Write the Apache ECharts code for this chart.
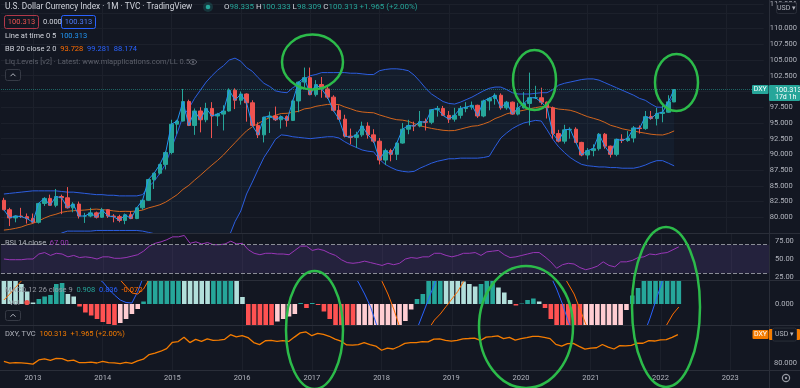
<!DOCTYPE html>
<html><head><meta charset="utf-8">
<script src="https://cdn.jsdelivr.net/npm/echarts@6/dist/echarts.min.js"></script>
<style>html,body{margin:0;padding:0;background:#131722;}#c{width:800px;height:388px;}</style>
</head><body><div id="c"></div>
<script>
// ---------- DATA (monthly, Aug 2012 .. Apr 2022) ----------
const startYear = 2012, startMonth = 8, slotCount = 132;
const yearLabels = ['2013','2014','2015','2016','2017','2018','2019','2020','2021','2022','2023'];
const opens = [
 82.7,81.2,79.9,80.2,80.1,
 79.8,79.2,82.2,83.0,81.9,83.3,83.1,81.5,82.1,80.2,80.2,80.7,
 80.0,81.2,80.2,80.1,79.5,80.4,79.8,81.5,82.7,86.0,87.0,88.4,
 90.3,94.8,95.3,98.4,94.6,96.9,95.5,97.3,96.1,96.4,96.9,100.2,
 98.6,99.6,98.2,94.6,93.1,95.9,96.1,95.5,96.0,95.4,98.5,101.5,
 102.2,99.5,101.1,100.4,99.1,97.0,95.6,92.9,92.7,93.1,94.5,93.1,
 92.1,89.1,90.6,90.0,91.8,94.0,94.6,94.5,95.2,95.1,97.1,97.3,
 96.2,95.6,96.2,97.3,97.5,97.8,96.1,98.5,98.9,99.4,97.4,98.3,
 96.4,97.4,98.1,99.0,99.0,98.3,97.4,93.3,92.1,93.9,94.0,91.9,
 89.9,90.6,90.9,93.2,91.3,90.0,92.4,92.2,92.6,94.2,94.1,96.0,
 95.7,96.5,96.7,98.335];
const highs = [
 83.1,81.5,80.3,81.5,80.6,
 80.6,82.3,83.2,83.6,84.5,83.6,84.8,82.4,82.5,80.7,81.5,80.9,
 81.5,81.3,80.5,80.4,80.6,81.0,81.6,82.8,86.1,87.1,88.5,90.5,
 95.5,95.5,100.4,98.7,97.3,97.5,98.2,98.3,96.6,97.8,100.5,100.5,
 100.0,99.7,98.6,95.1,96.0,96.8,97.6,96.2,96.2,98.7,101.6,103.8,
 103.8,101.8,102.3,101.0,99.4,97.8,96.3,94.1,93.6,95.2,95.1,94.0,
 92.6,90.9,90.9,91.9,95.0,95.5,95.2,96.9,95.7,97.2,97.7,97.7,
 96.9,97.4,97.7,98.3,98.4,97.9,98.7,99.1,99.7,99.7,98.5,98.4,
 98.2,99.9,103.0,100.9,100.6,98.4,97.6,93.9,94.7,94.3,94.3,92.0,
 91.0,91.6,93.4,93.4,91.4,92.5,93.2,93.7,94.5,94.6,96.9,96.9,
 97.4,97.8,99.4,100.333];
const lows = [
 81.1,78.6,79.2,79.9,79.0,
 79.0,79.0,81.8,81.9,81.6,80.5,81.4,80.8,79.8,79.1,80.0,79.8,
 79.9,79.9,79.2,79.2,78.9,79.7,79.7,81.2,82.6,84.5,86.8,87.6,
 90.0,93.2,95.2,94.5,93.1,93.5,95.1,92.6,94.5,93.8,96.8,97.2,
 97.9,95.2,94.5,92.6,91.9,93.4,95.3,94.1,94.4,95.3,96.7,100.6,
 99.4,99.2,99.0,98.8,96.8,95.5,92.7,91.6,91.0,92.8,92.5,91.8,
 88.4,88.3,88.9,89.1,91.7,93.2,93.7,94.3,93.8,94.8,96.0,96.1,
 95.0,95.2,95.7,96.7,97.1,95.8,95.9,97.0,97.9,97.1,97.1,96.3,
 96.2,97.3,94.6,98.8,97.9,95.7,92.5,91.9,91.7,92.5,91.8,89.7,
 89.2,89.7,90.6,90.9,89.5,89.7,91.8,92.0,91.9,93.3,93.9,95.5,
 94.6,95.1,96.6,98.309];
const closes = [
 81.2,79.9,80.2,80.1,79.8,
 79.2,82.2,83.0,81.9,83.3,83.1,81.5,82.1,80.2,80.2,80.7,80.0,
 81.2,80.2,80.1,79.5,80.4,79.8,81.5,82.7,86.0,87.0,88.4,90.3,
 94.8,95.3,98.4,94.6,96.9,95.5,97.3,96.1,96.4,96.9,100.2,98.6,
 99.6,98.2,94.6,93.1,95.9,96.1,95.5,96.0,95.4,98.5,101.5,102.2,
 99.5,101.1,100.4,99.1,97.0,95.6,92.9,92.7,93.1,94.5,93.1,92.1,
 89.1,90.6,90.0,91.8,94.0,94.6,94.5,95.2,95.1,97.1,97.3,96.2,
 95.6,96.2,97.3,97.5,97.8,96.1,98.5,98.9,99.4,97.4,98.3,96.4,
 97.4,98.1,99.0,99.0,98.3,97.4,93.3,92.1,93.9,94.0,91.9,89.9,
 90.6,90.9,93.2,91.3,90.0,92.4,92.2,92.6,94.2,94.1,96.0,95.7,
 96.5,96.7,98.348,100.313];
const bbBasis = [
 77.96,78.07,78.24,78.45,78.79,
 79.02,79.41,79.86,80.24,80.48,80.79,80.95,81.04,81.09,81.15,81.24,81.30,
 81.21,81.14,81.01,80.92,80.95,80.93,81.00,81.14,81.48,81.72,81.99,82.41,
 82.99,83.60,84.44,85.07,85.90,86.67,87.50,88.30,89.06,89.90,90.90,91.86,
 92.82,93.74,94.39,94.91,95.41,95.86,96.22,96.50,96.53,96.69,96.85,97.23,
 97.36,97.64,97.79,97.94,97.97,97.91,97.54,97.25,96.92,96.74,96.66,96.61,
 96.27,96.00,95.72,95.51,95.44,95.25,94.90,94.55,94.33,94.13,93.97,93.83,
 93.76,93.79,94.01,94.25,94.48,94.56,94.83,95.17,95.69,96.03,96.44,96.67,
 96.84,97.02,97.24,97.43,97.59,97.61,97.41,97.20,97.12,97.01,96.74,96.36,
 96.00,95.74,95.47,95.09,94.62,94.37,94.07,93.88,93.72,93.52,93.37,93.20,
 93.11,93.08,93.33,93.73];
const bbUpper = [
 83.7,83.8,83.9,84.0,84.1,
 84.2,84.2,84.2,84.2,84.2,84.1,84.0,84.0,83.9,83.8,83.7,83.6,
 83.6,83.5,83.5,83.4,83.4,83.4,83.4,83.6,84.8,85.7,87.0,88.5,
 91.0,93.4,96.1,97.3,98.9,100.2,101.5,102.5,103.4,104.1,105.0,105.3,
 104.8,103.8,103.2,102.2,101.3,100.8,100.1,99.9,99.8,100.6,101.1,102.0,
 102.5,102.7,103.0,103.0,103.0,103.0,103.0,102.9,102.9,102.8,102.7,102.7,
 103.3,103.5,103.6,103.6,103.5,103.3,102.6,101.6,100.5,99.6,99.0,98.4,
 98.1,98.0,98.3,98.7,99.1,99.6,100.1,100.5,100.7,100.7,100.3,99.8,
 99.6,99.6,99.6,99.7,99.8,99.8,100.3,101.0,101.3,101.5,101.7,101.9,
 102.0,102.0,101.8,101.4,101.0,100.6,100.2,99.8,99.4,98.9,98.6,98.0,
 97.5,97.5,98.2,99.28];
const bbLower = [
 72.2,72.3,72.6,72.9,73.5,
 73.8,74.6,75.5,76.3,76.8,77.5,77.8,77.8,77.8,77.8,77.8,77.9,
 77.9,77.9,77.9,77.9,77.9,77.9,77.9,77.8,77.6,77.4,77.0,76.3,
 75.0,73.8,72.8,72.9,72.9,73.2,73.5,74.1,74.8,75.7,77.0,79.3,
 81.0,83.7,85.6,87.6,89.5,90.9,92.4,93.1,93.0,92.8,92.7,92.6,
 92.5,92.6,92.7,92.8,92.8,92.6,92.0,91.5,91.1,90.7,90.5,90.4,
 89.2,88.4,87.9,87.5,87.3,87.2,87.3,87.8,88.2,88.6,88.9,89.1,
 89.3,89.3,89.4,89.4,89.4,89.4,89.5,89.7,91.2,92.6,93.4,94.1,
 94.6,95.0,95.2,95.4,95.3,93.9,92.4,91.2,90.3,89.5,88.9,88.4,
 88.2,88.1,88.0,88.0,87.9,87.9,87.8,87.8,87.8,88.0,88.3,88.7,
 89.0,89.0,88.6,88.17];
const rsi = [
 50,49,49,49,50,
 50,57,59,55,58,57,53,55,52,53,52,50,
 53,53,51,51,52,54,56,61,68,72,74,77,
 81,81,83,72,74,71,73,70,70,71,75,71,
 72,63,58,56,58,58,57,57,56,62,68,68,
 62,64,62,58,55,49,45,44,45,47,45,43,
 41,44,42,44,50,52,51,53,53,58,58,55,
 53,55,58,58,59,55,60,61,62,56,52,53,
 55,57,59,59,53,46,37,42,44,43,38,35,
 37,40,46,41,39,46,46,48,52,53,57,56,
 58,59,63,67];
const macdHist = [
 0.9,0.7,0.5,0.4,0.25,
 0.03,0.1,0.15,0.18,0.4,0.42,0.2,0.15,-0.05,-0.17,-0.23,-0.3,
 -0.36,-0.4,-0.45,-0.38,-0.3,-0.2,-0.1,0.05,0.5,0.8,1.0,1.2,
 1.6,1.7,1.5,1.2,1.0,0.9,0.8,0.85,0.9,0.95,1.0,0.6,
 0.14,-0.5,-0.7,-0.8,-0.9,-1.0,-0.35,-0.3,-0.25,-0.2,0.02,-0.08,
 0.02,-0.02,-0.15,-0.3,-0.5,-0.7,-0.85,-1.0,-0.9,-0.8,-0.7,-0.6,
 -0.5,-0.47,-0.44,-0.43,-0.34,-0.11,0.1,0.2,0.5,0.6,0.7,0.6,
 0.55,0.5,0.45,0.4,0.35,0.4,0.5,0.6,0.33,0.23,0.08,-0.03,
 0.01,0.08,0.11,0.05,-0.08,-0.3,-0.5,-0.7,-0.8,-0.9,-0.95,-0.9,
 -0.8,-0.7,-0.6,-0.55,-0.5,-0.45,-0.12,0.17,0.32,0.5,0.6,0.65,
 0.7,0.75,0.85,0.95];
const macdLine = [
 1.5,1.3,1.1,1.0,0.9,
 0.8,0.85,0.95,1.0,1.1,1.15,1.0,0.9,0.8,0.7,0.6,0.52,
 0.44,0.3,0.18,0.08,0.03,0.02,0.25,0.55,1.0,1.5,2.0,2.5,
 3.0,3.3,3.6,3.4,3.3,3.1,3.0,2.9,2.8,2.8,2.9,2.8,
 2.6,2.2,1.8,1.5,1.3,1.1,1.0,0.9,0.8,0.85,1.0,1.2,
 1.3,1.35,1.4,1.3,1.2,1.0,0.8,0.6,0.42,0.2,-0.05,-0.4,
 -0.7,-0.9,-1.0,-1.0,-0.9,-0.7,-0.5,-0.2,0.1,0.4,0.7,0.9,
 1.0,1.1,1.2,1.2,1.2,1.2,1.25,1.3,1.3,1.2,1.1,1.0,
 0.95,0.95,0.95,0.95,0.9,0.55,0.3,0.0,-0.35,-0.6,-0.9,-1.2,
 -1.3,-1.3,-1.25,-1.2,-1.1,-1.0,-0.9,-0.85,-0.75,-0.6,-0.3,0.05,
 0.4,0.8,1.2,1.6];
const signalLine = [
 0.08,0.2,0.33,0.46,0.6,
 0.7,0.75,0.8,0.85,0.9,0.9,0.9,0.9,0.85,0.8,0.75,0.7,
 0.65,0.6,0.55,0.48,0.35,0.22,0.2,0.3,0.5,0.8,1.1,1.4,
 1.8,2.1,2.4,2.6,2.7,2.8,2.8,2.8,2.8,2.8,2.8,2.8,
 2.7,2.6,2.4,2.2,2.0,1.8,1.6,1.4,1.2,1.1,1.1,1.1,
 1.15,1.2,1.25,1.25,1.25,1.2,1.1,1.0,0.9,0.8,0.7,0.6,
 0.45,0.2,-0.1,-0.45,-0.7,-0.8,-0.8,-0.7,-0.5,-0.32,-0.2,-0.05,
 0.1,0.25,0.45,0.6,0.7,0.8,0.9,1.0,1.0,1.0,1.0,1.0,
 1.0,0.95,0.95,0.95,0.95,0.9,0.8,0.6,0.4,0.2,-0.1,-0.4,
 -0.6,-0.8,-0.9,-1.0,-1.0,-1.0,-1.0,-0.95,-0.9,-0.85,-0.8,-0.7,
 -0.6,-0.4,-0.2,-0.06];

// ---------- BUILD ----------
const categories = [];
for (let k = 0; k < slotCount; k++) {
  const m0 = startMonth - 1 + k;
  const y = startYear + Math.floor(m0 / 12);
  const mo = m0 % 12 + 1;
  categories.push(y + '-' + String(mo).padStart(2, '0'));
}
const isYearStart = (v) => v.endsWith('-01') && yearLabels.includes(v.slice(0, 4));
const candleData = opens.map((o, i) => [o, closes[i], lows[i], highs[i]]);
const bandWidth = bbUpper.map((u, i) => +(u - bbLower[i]).toFixed(3));
const histData = macdHist.map((h, i) => {
  const prev = i > 0 ? macdHist[i - 1] : Infinity;
  let c;
  if (h >= 0) c = h > prev ? '#26a69a' : '#b2dfdb';
  else c = h > prev ? '#ffcdd2' : '#ff5252';
  return { value: h, itemStyle: { color: c } };
});
const lastClose = closes[closes.length - 1];

const FONT = 'Roboto, "Noto Sans", sans-serif';
const TXT = '#b2b5be';
const GRIDC = '#1c202b';
const gridBase = { left: 1, right: 31 };
const grids = [
  Object.assign({ top: 0, height: 233 }, gridBase),
  Object.assign({ top: 234, height: 46 }, gridBase),
  Object.assign({ top: 281, height: 44 }, gridBase),
  Object.assign({ top: 326, height: 44 }, gridBase)
];
const xAxes = grids.map((g, k) => ({
  type: 'category', gridIndex: k, data: categories, boundaryGap: true,
  axisLine: { show: false }, axisTick: { show: false },
  axisLabel: k === 3 ? {
    show: true, interval: (idx, v) => isYearStart(v), formatter: v => v.slice(0, 4),
    color: TXT, fontSize: 7.5, fontFamily: FONT, margin: 4
  } : { show: false },
  splitLine: { show: true, interval: (idx, v) => isYearStart(v), alignWithLabel: true, lineStyle: { color: GRIDC, width: 1 } }
}));
const lblBase = { color: TXT, fontSize: 7.5, fontFamily: FONT, margin: 6, align: 'left' };
const yAxes = [
  { type: 'value', gridIndex: 0, position: 'right', min: 77.5, max: 113.906, interval: 2.5,
    axisLine: { show: false }, axisTick: { show: false },
    axisLabel: Object.assign({}, lblBase, { formatter: v => (Math.abs(v - 77.5) < 1e-6 || Math.abs(v - 112.5) < 1e-6 || Math.abs(v - 100) < 1e-6) ? '' : v.toFixed(3) }),
    splitLine: { show: true, lineStyle: { color: GRIDC, width: 1 } } },
  { type: 'value', gridIndex: 1, position: 'right', min: 20.6, max: 85,
    axisLine: { show: false }, axisTick: { show: false },
    axisLabel: Object.assign({}, lblBase, { customValues: [25, 50, 75], formatter: v => v.toFixed(2) }),
    splitLine: { show: false } },
  { type: 'value', gridIndex: 2, position: 'right', min: -0.42, max: 0.46,
    axisLine: { show: false }, axisTick: { show: false },
    axisLabel: Object.assign({}, lblBase, { customValues: [0], formatter: v => v.toFixed(3) }),
    splitLine: { show: false } },
  { type: 'value', gridIndex: 3, position: 'right', min: 75, max: 106.43,
    axisLine: { show: false }, axisTick: { show: false },
    axisLabel: Object.assign({}, lblBase, { customValues: [80], formatter: v => v.toFixed(3) }),
    splitLine: { show: false } }
];
const lineS = (name, data, color, xi, yi, w, extra) => Object.assign({
  name, type: 'line', data, xAxisIndex: xi, yAxisIndex: yi, symbol: 'none', silent: true,
  clip: true, lineStyle: { color, width: w }, z: 3
}, extra || {});

const series = [
  { name: 'bbBase', type: 'line', data: bbLower, stack: 'bb', xAxisIndex: 0, yAxisIndex: 0, symbol: 'none', silent: true,
    lineStyle: { opacity: 0 }, z: 1 },
  { name: 'bbFill', type: 'line', data: bandWidth, stack: 'bb', xAxisIndex: 0, yAxisIndex: 0, symbol: 'none', silent: true,
    lineStyle: { opacity: 0 }, areaStyle: { color: 'rgba(33,150,243,0.07)' }, z: 1 },
  lineS('upper', bbUpper, '#2c5ee0', 0, 0, 1),
  lineS('lower', bbLower, '#2c5ee0', 0, 0, 1),
  lineS('basis', bbBasis, '#d2651d', 0, 0, 1),
  { name: 'DXY', type: 'candlestick', data: candleData, xAxisIndex: 0, yAxisIndex: 0, barWidth: 4, clip: true, z: 4,
    itemStyle: { color: '#26a69a', color0: '#ef5350', borderColor: '#26a69a', borderColor0: '#ef5350', borderWidth: 1 },
    markLine: { silent: true, symbol: ['none', 'none'], label: { show: false },
      lineStyle: { type: 'dotted', color: 'rgba(38,166,154,0.55)', width: 1 }, data: [{ yAxis: lastClose }] } },
  lineS('lineAtTime', closes, '#2196f3', 0, 0, 1, { z: 5 }),
  lineS('RSI', rsi, '#9a36b8', 1, 1, 1, {
    markArea: { silent: true, itemStyle: { color: 'rgba(126,87,194,0.17)' }, data: [[{ yAxis: 30 }, { yAxis: 70 }]] },
    markLine: { silent: true, symbol: ['none', 'none'], label: { show: false },
      lineStyle: { type: 'dashed', color: '#8a8d96', width: 1 }, data: [{ yAxis: 70 }, { yAxis: 30 }] } }),
  { name: 'hist', type: 'bar', data: histData, xAxisIndex: 2, yAxisIndex: 2, barWidth: 4.6, clip: true, silent: true, z: 2 },
  lineS('macd', macdLine, '#2962ff', 2, 2, 1),
  lineS('signal', signalLine, '#ff6d00', 2, 2, 1),
  lineS('dxyLine', closes, '#f57c00', 3, 3, 1.3)
];

const chart = echarts.init(document.getElementById('c'), null, { renderer: 'canvas', width: 800, height: 388 });
chart.setOption({
  backgroundColor: '#131722', animation: false,
  grid: grids, xAxis: xAxes, yAxis: yAxes, series: series
});

// ---------- overlay texts / tags ----------
const yMain = chart.convertToPixel({ yAxisIndex: 0 }, lastClose);
const yDxy = chart.convertToPixel({ yAxisIndex: 3 }, lastClose);
const R = (k, o) => Object.assign({ fontFamily: FONT, fontSize: 7.5 }, o);
function T(x, y, text, rich, base) {
  return { type: 'text', x, y, z: 100, silent: true,
    style: Object.assign({ text, rich: rich || {}, fontFamily: FONT, fontSize: 7.5, fill: '#d1d4dc', verticalAlign: 'middle' }, base || {}) };
}
function box(x, y, w, h, fill, stroke, r) {
  return { type: 'rect', z: 99, silent: true, shape: { x, y, width: w, height: h, r: r || 0 },
    style: { fill: fill || 'none', stroke: stroke || 'none', lineWidth: 1 } };
}
function hline(y, x1, x2, c) {
  return { type: 'line', z: 60, silent: true, shape: { x1, y1: y, x2, y2: y }, style: { stroke: c, lineWidth: 1 } };
}
function ell(cx, cy, rx, ry) {
  return { type: 'ellipse', z: 120, silent: true, shape: { cx, cy, rx, ry },
    style: { fill: 'none', stroke: '#2cbb4a', lineWidth: 2.5 } };
}
function chevron(x, y) {
  return { type: 'polyline', z: 101, silent: true, shape: { points: [[x - 2.5, y + 1.2], [x, y - 1.3], [x + 2.5, y + 1.2]] },
    style: { fill: 'none', stroke: '#b2b5be', lineWidth: 1 } };
}
const teal = '#26a69a';
const graphics = [
  hline(233.5, 0, 800, '#2a2e39'), hline(280.5, 0, 800, '#2a2e39'), hline(325.5, 0, 800, '#2a2e39'), hline(370.5, 0, 800, '#2a2e39'),
  { type: 'line', z: 60, silent: true, shape: { x1: 769.5, y1: 0, x2: 769.5, y2: 388 }, style: { stroke: '#2a2e39', lineWidth: 1 } },
  // header
  T(5, 7, 'U.S. Dollar Currency Index · 1M · TVC · TradingView', null, { fontSize: 8.3, fill: '#d1d4dc' }),
  { type: 'circle', z: 100, silent: true, shape: { cx: 208, cy: 7, r: 5 }, style: { fill: 'rgba(38,166,154,0.22)' } },
  { type: 'circle', z: 101, silent: true, shape: { cx: 208, cy: 7, r: 2.3 }, style: { fill: teal } },
  T(224, 7, '{l|O}{v|98.335} {l|H}{v|100.333} {l|L}{v|98.309} {l|C}{v|100.313} {v|+1.965 (+2.00%)}', {
    l: R(0, { fill: '#d1d4dc', fontSize: 8 }), v: R(0, { fill: teal, fontSize: 8 }) }),
  box(4.5, 15.5, 34, 13, 'none', '#b2394a', 2),
  T(21.5, 22, '100.313', null, { fill: '#ef5350', align: 'center' }),
  T(43, 22, '0.000', null, { fill: '#d1d4dc' }),
  box(61.5, 15.5, 34, 13, 'none', '#2962ff', 2),
  T(78.5, 22, '100.313', null, { fill: '#4d7cfe', align: 'center' }),
  T(5, 36.5, '{w|Line at time 0 5}  {b|100.313}', { w: R(0, { fill: '#d1d4dc' }), b: R(0, { fill: '#2196f3' }) }),
  T(5, 49.5, '{w|BB 20 close 2 0}  {o|93.728}  {b|99.281}  {b|88.174}', {
    w: R(0, { fill: '#d1d4dc' }), o: R(0, { fill: '#ff6d00' }), b: R(0, { fill: '#2962ff' }) }),
  T(5, 62, 'Liq.Levels [v2] · Latest: www.mlapplications.com/LL 0.5', null, { fill: '#5d606b' }),
  { type: 'ellipse', z: 100, silent: true, shape: { cx: 193, cy: 62, rx: 3.5, ry: 2.3 }, style: { fill: 'none', stroke: '#6a6d78', lineWidth: 1 } },
  { type: 'circle', z: 100, silent: true, shape: { cx: 193, cy: 62, r: 1 }, style: { fill: '#6a6d78' } },
  box(5.5, 69.5, 15, 11, '#131722', '#363a45', 2), chevron(13, 75),
  // pane legends
  T(5, 243, '{w|RSI 14 close}  {p|67.00}', { w: R(0, { fill: '#b2b5be' }), p: R(0, { fill: '#9a36b8' }) }),
  T(5, 290, '{w|MACD 12 26 close 9}  {t|0.908}  {b|0.836}  {o|-0.072}', {
    w: R(0, { fill: '#9598a1' }), t: R(0, { fill: teal }), b: R(0, { fill: '#2962ff' }), o: R(0, { fill: '#ff6d00' }) }),
  T(9, 303, 'Vol', null, { fill: '#9598a1' }),
  { type: 'circle', z: 100, silent: true, shape: { cx: 27, cy: 302.5, r: 2.6 }, style: { fill: '#ef5350' } },
  box(5.5, 310.5, 15, 10, '#131722', '#363a45', 2), chevron(13, 315.5),
  T(5, 334, '{w|DXY, TVC}  {o|100.313  +1.965 (+2.00%)}', { w: R(0, { fill: '#b2b5be' }), o: R(0, { fill: '#f57c00' }) }),
  // right scale widgets
  box(776.5, 2.5, 20, 11, '#131722', '#2a2e39', 2),
  T(786.5, 8, 'USD ▾', null, { fill: '#b2b5be', align: 'center', fontSize: 7 }),
  // main price tag
  box(752, yMain - 4.5, 16.5, 9, teal, 'none', 1),
  T(760.2, yMain, 'DXY', null, { fill: '#ffffff', align: 'center', fontSize: 7 }),
  box(769, yMain - 4.5, 31, 16, teal, 'none', 1),
  T(775, yMain + 0.5, '100.313', null, { fill: '#ffffff', fontSize: 7.3 }),
  T(775, yMain + 7.3, '17d 1h', null, { fill: '#ffffff', fontSize: 7 }),
  // bottom pane tag
  box(769, yDxy - 5.5, 31, 11, '#f57c00', 'none', 1),
  box(752.5, yDxy - 4.5, 16, 9, '#f57c00', 'none', 1),
  T(760.5, yDxy, 'DXY', null, { fill: '#ffffff', align: 'center', fontSize: 7 }),
  box(772.5, yDxy - 6.5, 24, 13, '#131722', '#2a2e39', 2),
  T(784.5, yDxy, 'USD ▾', null, { fill: '#b2b5be', align: 'center', fontSize: 7 }),
  // gear
  { type: 'circle', z: 100, silent: true, shape: { cx: 786, cy: 378, r: 3.6 }, style: { fill: 'none', stroke: '#9598a1', lineWidth: 1.2 } },
  { type: 'circle', z: 100, silent: true, shape: { cx: 786, cy: 378, r: 1.2 }, style: { fill: '#9598a1' } },
  // hand-drawn annotations
  ell(312.5, 62, 30.5, 27.5), ell(534.5, 80, 21.5, 30), ell(676.5, 82.5, 21.5, 28.5),
  ell(314.5, 330, 28.5, 59), ell(526, 327, 47, 61), ell(666, 307, 34, 80)
];
chart.setOption({ graphic: graphics });
</script>
</body></html>
